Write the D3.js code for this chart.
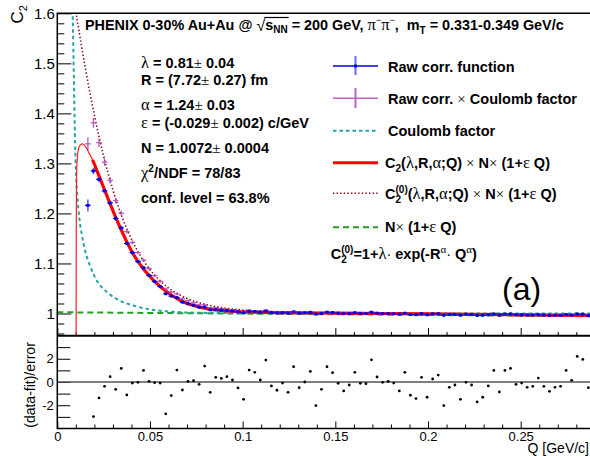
<!DOCTYPE html>
<html>
<head>
<meta charset="utf-8">
<script src="https://cdn.jsdelivr.net/npm/d3@7"></script>
<style>
  html, body { margin: 0; padding: 0; background: #fff; }
  svg text { white-space: pre; }
</style>
</head>
<body>
<svg id="chart" width="590" height="456"></svg>
<script>
// ---- data ----
const qBins = [0.0165, 0.0195, 0.0225, 0.0255, 0.0285, 0.0315, 0.0345, 0.0375, 0.0405, 0.0435,
  0.0465, 0.0495, 0.0525, 0.0555, 0.0585, 0.0615, 0.0645, 0.0675, 0.0705, 0.0735,
  0.0765, 0.0795, 0.0825, 0.0855, 0.0885, 0.0915, 0.0945, 0.0975, 0.1005, 0.1035,
  0.1065, 0.1095, 0.1125, 0.1155, 0.1185, 0.1215, 0.1245, 0.1275, 0.1305, 0.1335,
  0.1365, 0.1395, 0.1425, 0.1455, 0.1485, 0.1515, 0.1545, 0.1575, 0.1605, 0.1635,
  0.1665, 0.1695, 0.1725, 0.1755, 0.1785, 0.1815, 0.1845, 0.1875, 0.1905, 0.1935,
  0.1965, 0.1995, 0.2025, 0.2055, 0.2085, 0.2115, 0.2145, 0.2175, 0.2205, 0.2235,
  0.2265, 0.2295, 0.2325, 0.2355, 0.2385, 0.2415, 0.2445, 0.2475, 0.2505, 0.2535,
  0.2565, 0.2595, 0.2625, 0.2655, 0.2685, 0.2715, 0.2745, 0.2775, 0.2805, 0.2835, 0.2865];

// raw correlation function (blue)
const rawCorr = [1.216, 1.285, 1.268, 1.245, 1.221, 1.190, 1.171, 1.140, 1.1217, 1.1039,
  1.0914, 1.0761, 1.0639, 1.0538, 1.0395, 1.0348, 1.0319, 1.0228, 1.0196, 1.0162,
  1.0127, 1.0126, 1.0074, 1.0079, 1.0066, 1.0059, 1.0048, 1.0033, 1.0016, 1.0044,
  1.0039, 1.0027, 1.0048, 1.0017, 1.0010, 1.0016, 1.0005, 1.0031, 1.0008, 1.0013,
  1.0023, 0.9987, 1.0002, 1.0025, 1.0018, 1.0006, 0.9997, 1.0002, 1.0014, 1.0002,
  1.0000, 1.0024, 1.0005, 0.9999, 0.9999, 0.9996, 0.9987, 1.0005, 0.9980, 0.9976,
  0.9997, 0.9975, 0.9993, 0.9996, 0.9964, 0.9981, 0.9983, 0.9967, 0.9984, 0.9980,
  0.9961, 0.9965, 0.9976, 0.9991, 0.9968, 0.9989, 0.9990, 0.9973, 0.9973, 0.9967,
  0.9968, 0.9975, 0.9966, 0.9959, 0.9962, 0.9963, 0.9978, 0.9967, 0.9990, 0.9986, 0.9956];
const rawCorrErr = [0.012, 0.0065, 0.0055, 0.0048, 0.0043, 0.0039, 0.0035, 0.0032, 0.0030, 0.0028,
  0.0026, 0.0024, 0.0023, 0.0022, 0.0021, 0.0020, 0.0019, 0.0018, 0.0017, 0.0017,
  0.0016, 0.0016, 0.0015, 0.0015, 0.0015, 0.0014, 0.0014, 0.0014, 0.0014, 0.0013,
  0.0013, 0.0013, 0.0013, 0.0013, 0.0013, 0.0013, 0.0013, 0.0013, 0.0013, 0.0013,
  0.0013, 0.0013, 0.0013, 0.0013, 0.0013, 0.0013, 0.0013, 0.0013, 0.0013, 0.0013,
  0.0012, 0.0012, 0.0012, 0.0012, 0.0012, 0.0012, 0.0012, 0.0012, 0.0012, 0.0012,
  0.0012, 0.0012, 0.0012, 0.0012, 0.0012, 0.0012, 0.0012, 0.0012, 0.0012, 0.0012,
  0.0012, 0.0012, 0.0012, 0.0012, 0.0012, 0.0012, 0.0012, 0.0012, 0.0012, 0.0012,
  0.0012, 0.0012, 0.0012, 0.0012, 0.0012, 0.0012, 0.0012, 0.0012, 0.0012, 0.0012, 0.0012];

// raw corr. x Coulomb factor (purple)
const coulCorr = [1.339, 1.381, 1.3415, 1.3023, 1.2662, 1.2257, 1.2003, 1.1639, 1.1419, 1.1216,
  1.1067, 1.0896, 1.0756, 1.0643, 1.0489, 1.0431, 1.0393, 1.0294, 1.0255, 1.0215,
  1.0175, 1.0169, 1.0112, 1.0113, 1.0097, 1.0087, 1.0073, 1.0056, 1.0037, 1.0063,
  1.0056, 1.0043, 1.0063, 1.0031, 1.0023, 1.0028, 1.0015, 1.0041, 1.0018, 1.0022,
  1.0032, 0.9996, 1.0011, 1.0034, 1.0026, 1.0014, 1.0005, 1.0010, 1.0022, 1.0009,
  1.0007, 1.0029, 1.0010, 1.0004, 1.0004, 1.0001, 0.9992, 1.0010, 0.9985, 0.9981,
  1.0002, 0.9980, 0.9998, 1.0001, 0.9969, 0.9986, 0.9988, 0.9972, 0.9989, 0.9985,
  0.9966, 0.9970, 0.9981, 0.9996, 0.9973, 0.9994, 0.9995, 0.9978, 0.9978, 0.9972,
  0.9973, 0.9980, 0.9971, 0.9964, 0.9967, 0.9968, 0.9983, 0.9972, 0.9995, 0.9991, 0.9961];
const coulCorrErr = [0.0126, 0.0100, 0.0085, 0.0072, 0.0063, 0.0056, 0.0050, 0.0045, 0.0041, 0.0038,
  0.0035, 0.0033, 0.0031, 0.0029, 0.0028, 0.0027, 0.0026, 0.0025, 0.0024, 0.0023,
  0.0022, 0.0022, 0.0021, 0.0021, 0.0020, 0.0020, 0.0020, 0.0020, 0.0020, 0.0020,
  0.0020, 0.0020, 0.0020, 0.0020, 0.0020, 0.0020, 0.0020, 0.0020, 0.0020, 0.0020,
  0.0019, 0.0019, 0.0019, 0.0019, 0.0019, 0.0019, 0.0019, 0.0019, 0.0019, 0.0019,
  0.0018, 0.0018, 0.0018, 0.0018, 0.0018, 0.0018, 0.0018, 0.0018, 0.0018, 0.0018,
  0.0018, 0.0018, 0.0018, 0.0018, 0.0018, 0.0018, 0.0018, 0.0018, 0.0018, 0.0018,
  0.0018, 0.0018, 0.0018, 0.0018, 0.0018, 0.0018, 0.0018, 0.0018, 0.0018, 0.0018,
  0.0018, 0.0018, 0.0018, 0.0018, 0.0018, 0.0018, 0.0018, 0.0018, 0.0018, 0.0018, 0.0018];

// (data-fit)/error, for qBins[1..90]
const residuals = [-2.97, -1.37, -0.37, 0.46, -0.63, 1.17, -1.11, -0.09, -0.03, 1.0,
  0.06, -0.06, -0.09, -2.74, -1.17, 1.03, -0.69, 0.06, 0.11, -0.2,
  1.37, -0.89, 0.4, 0.31, 0.46, 0.17, -0.51, -1.49, 1.03, 0.83,
  0.17, 1.89, -0.34, -0.71, -0.09, -0.89, 1.31, -0.49, 0.0, 0.91,
  -2.03, -0.63, 1.31, 0.8, -0.11, -0.77, -0.26, 0.83, -0.11, -0.14,
  1.91, 0.43, -0.03, 0.06, -0.09, -0.77, 0.83, -1.14, -1.43, 0.4,
  -1.31, 0.26, 0.6, -2.03, -0.46, -0.26, -1.49, -0.03, -0.26, -1.71,
  -1.31, -0.34, 1.0, -0.86, 1.0, 1.17, -0.2, -0.09, -0.46, -0.37,
  0.34, -0.37, -0.8, -0.46, -0.37, 1.0, 0.14, 2.2, 1.94, -0.49];

// fit C2 x N x (1+eps Q), fit range (thick red)
const fitQ = [0.0190, 0.0195, 0.0210, 0.0225, 0.0240, 0.0255, 0.0270, 0.0285, 0.0300, 0.0315,
  0.0330, 0.0345, 0.0360, 0.0375, 0.0390, 0.0405, 0.0435, 0.0465, 0.0495, 0.0525,
  0.0555, 0.0585, 0.0615, 0.0645, 0.0675, 0.0705, 0.0735, 0.0765, 0.0795, 0.0825,
  0.0885, 0.0945, 0.1005, 0.1065, 0.1125, 0.1215, 0.15, 0.20, 0.25, 0.29];
const fitC = [1.307, 1.303, 1.289, 1.275, 1.261, 1.247, 1.233, 1.219, 1.2055, 1.192,
  1.1795, 1.167, 1.155, 1.143, 1.1325, 1.122, 1.104, 1.089, 1.076, 1.064,
  1.054, 1.045, 1.037, 1.030, 1.024, 1.0195, 1.016, 1.013, 1.0105, 1.0087,
  1.0062, 1.0046, 1.0035, 1.0028, 1.0023, 1.0017, 1.0008, 0.9991, 0.9974, 0.9961];
// same function below the fit range (thin red)
const fitLowQ = [0.01016, 0.01020, 0.01026, 0.01035, 0.0105, 0.0109, 0.0115, 0.0124, 0.0135, 0.0147,
  0.0160, 0.0172, 0.0182, 0.0190];
const fitLowC = [0.95, 1.10, 1.20, 1.26, 1.290, 1.315, 1.330, 1.337, 1.339, 1.336,
  1.329, 1.320, 1.313, 1.307];
// C2(0) x N x (1+eps Q) (dotted)
const c0Q = [0.0098, 0.0100, 0.0115, 0.0130, 0.0150, 0.0175, 0.0200, 0.0225, 0.0250, 0.0275,
  0.0300, 0.0325, 0.0350, 0.0400, 0.0450, 0.0500, 0.0550, 0.0600, 0.0650, 0.0700,
  0.0800, 0.0900, 0.1000, 0.1100, 0.1200, 0.1400, 0.1700, 0.2000, 0.2500, 0.2900];
const c0C = [1.610, 1.6037, 1.5693, 1.5360, 1.4932, 1.4430, 1.3965, 1.3537, 1.3146, 1.2790,
  1.2470, 1.2181, 1.1922, 1.1487, 1.1143, 1.0875, 1.0669, 1.0511, 1.0391, 1.0300,
  1.0181, 1.0110, 1.0070, 1.0045, 1.0030, 1.0015, 1.0003, 0.9993, 0.9976, 0.9963];
// Coulomb factor (cyan dashed)
const coulQ = [0.0082, 0.0083, 0.0088, 0.0092, 0.0096, 0.0101, 0.0108, 0.0119, 0.0132, 0.0149,
  0.0176, 0.0213, 0.0267, 0.0320, 0.0410, 0.0500, 0.0600, 0.0700, 0.0850, 0.1000, 0.1500, 0.2900];
const coulC = [1.62, 1.60, 1.50, 1.42, 1.34, 1.28, 1.235, 1.19, 1.158, 1.127,
  1.096, 1.066, 1.043, 1.029, 1.016, 1.008, 1.004, 1.002, 1.001, 1.0005, 1.0001, 1.0];
// N x (1+eps Q) (green dashed)
const baseQ = [0, 0.29];
const baseC = [1.0025, 0.9945];

// axes
const xTicks = [0, 0.05, 0.1, 0.15, 0.2, 0.25];
const xLabels = ["0", "0.05", "0.1", "0.15", "0.2", "0.25"];
const yTicks = [1.0, 1.1, 1.2, 1.3, 1.4, 1.5, 1.6];
const yLabels = ["1", "1.1", "1.2", "1.3", "1.4", "1.5", "1.6"];
const resTicks = [-2, 0, 2];
const resLabels = ["-2", "0", "2"];
const resMinor = [-3, -1, 1, 3];

// ---- drawing ----
const SANS = "'Liberation Sans', Arial, Helvetica, sans-serif";
const SERIF = "'Liberation Serif', 'Times New Roman', serif";

const svg = d3.select("#chart");
svg.append("rect").attr("width", 590).attr("height", 456).attr("fill", "#fff");

const left = 57.3, right = 596;
const x = d3.scaleLinear().domain([0, 0.29]).range([left, left + 0.29 * 1853.6]);
const yTop = d3.scaleLinear().domain([0.955, 1.6]).range([336, 13.3]);
const yRes = d3.scaleLinear().domain([-4, 4]).range([428.5, 335.5]);

const defs = svg.append("defs");
defs.append("clipPath").attr("id", "clipTop").append("rect")
  .attr("x", left).attr("y", 13.3).attr("width", right - left).attr("height", 336 - 13.3);
defs.append("clipPath").attr("id", "clipRes").append("rect")
  .attr("x", left).attr("y", 335.5).attr("width", right - left).attr("height", 93);

const xMinor = d3.range(0.01, 0.29, 0.01).filter(v => Math.abs(v / 0.05 - Math.round(v / 0.05)) > 1e-6);
const yMinor = d3.range(0.96, 1.6, 0.02).filter(v => Math.abs(v * 10 - Math.round(v * 10)) > 1e-6);

function styleAxis(g, size) {
  g.select(".domain").remove();
  g.selectAll("line").attr("stroke", "#000").attr("stroke-width", 1);
  g.selectAll("text").attr("font-family", SANS).attr("font-size", size).attr("fill", "#000");
}

// upper panel axes
svg.append("g").attr("transform", `translate(${left},0)`)
  .call(d3.axisLeft(yTop).tickValues(yTicks).tickSize(-14).tickPadding(2.5)
    .tickFormat((d, i) => yLabels[i]))
  .call(g => styleAxis(g, 15));
svg.append("g").attr("transform", `translate(${left},0)`)
  .call(d3.axisLeft(yTop).tickValues(yMinor).tickSize(-7).tickFormat(""))
  .call(g => styleAxis(g, 15));
svg.append("g").attr("transform", "translate(0,336)")
  .call(d3.axisBottom(x).tickValues(xTicks).tickSize(-8).tickFormat(""))
  .call(g => styleAxis(g, 13));
svg.append("g").attr("transform", "translate(0,336)")
  .call(d3.axisBottom(x).tickValues(xMinor).tickSize(-4).tickFormat(""))
  .call(g => styleAxis(g, 13));

// lower panel axes
svg.append("g").attr("transform", "translate(0,428.5)")
  .call(d3.axisBottom(x).tickValues(xTicks).tickSize(-7).tickPadding(3.5)
    .tickFormat((d, i) => xLabels[i]))
  .call(g => styleAxis(g, 13));
svg.append("g").attr("transform", "translate(0,428.5)")
  .call(d3.axisBottom(x).tickValues(xMinor).tickSize(-4).tickFormat(""))
  .call(g => styleAxis(g, 13));
svg.append("g").attr("transform", `translate(${left},0)`)
  .call(d3.axisLeft(yRes).tickValues(resTicks).tickSize(-13).tickPadding(3.5)
    .tickFormat((d, i) => resLabels[i]))
  .call(g => styleAxis(g, 13));
svg.append("g").attr("transform", `translate(${left},0)`)
  .call(d3.axisLeft(yRes).tickValues(resMinor).tickSize(-13).tickFormat(""))
  .call(g => styleAxis(g, 13));

// curves (upper panel)
const upper = svg.append("g").attr("clip-path", "url(#clipTop)");
const line = d3.line().x(d => x(d[0])).y(d => yTop(d[1])).curve(d3.curveMonotoneX);

upper.append("path").datum(d3.zip(baseQ, baseC)).attr("d", line)
  .attr("fill", "none").attr("stroke", "#22a022").attr("stroke-width", 2).attr("stroke-dasharray", "6,4");
upper.append("path").datum(d3.zip(coulQ, coulC)).attr("d", line)
  .attr("fill", "none").attr("stroke", "#22a4a8").attr("stroke-width", 2).attr("stroke-dasharray", "3.5,3");
upper.append("path").datum(d3.zip(c0Q, c0C)).attr("d", line)
  .attr("fill", "none").attr("stroke", "#8a0a0a").attr("stroke-width", 1.6).attr("stroke-dasharray", "1.4,2.2");
upper.append("path").datum(d3.zip(fitLowQ, fitLowC)).attr("d", line)
  .attr("fill", "none").attr("stroke", "#ff2020").attr("stroke-width", 1.2);
upper.append("path").datum(d3.zip(fitQ, fitC)).attr("d", line)
  .attr("fill", "none").attr("stroke", "#ff0000").attr("stroke-width", 3.2);

// data points with error bars
const halfBin = 0.0015;
const purple = upper.append("g").attr("stroke", "#b048b8").attr("stroke-width", 1.3).attr("opacity", 0.9);
qBins.forEach((q, i) => {
  purple.append("line").attr("x1", x(q)).attr("x2", x(q))
    .attr("y1", yTop(coulCorr[i] - coulCorrErr[i])).attr("y2", yTop(coulCorr[i] + coulCorrErr[i]));
  purple.append("line").attr("x1", x(q - halfBin)).attr("x2", x(q + halfBin))
    .attr("y1", yTop(coulCorr[i])).attr("y2", yTop(coulCorr[i]));
});
const blue = upper.append("g");
qBins.forEach((q, i) => {
  blue.append("line").attr("x1", x(q)).attr("x2", x(q))
    .attr("y1", yTop(rawCorr[i] - rawCorrErr[i])).attr("y2", yTop(rawCorr[i] + rawCorrErr[i]))
    .attr("stroke", "rgba(70,70,255,0.85)").attr("stroke-width", 1.6);
  blue.append("line").attr("x1", x(q - halfBin)).attr("x2", x(q + halfBin))
    .attr("y1", yTop(rawCorr[i])).attr("y2", yTop(rawCorr[i]))
    .attr("stroke", "#0000f0").attr("stroke-width", 1.1);
  blue.append("rect").attr("x", x(q) - 1.5).attr("y", yTop(rawCorr[i]) - 1.5)
    .attr("width", 3).attr("height", 3).attr("fill", "#0000e0");
});

// residual panel
const res = svg.append("g").attr("clip-path", "url(#clipRes)");
res.append("line").attr("x1", left).attr("x2", right).attr("y1", yRes(0)).attr("y2", yRes(0))
  .attr("stroke", "#555").attr("stroke-width", 1.5);
res.selectAll("circle").data(residuals).join("circle")
  .attr("cx", (d, i) => x(qBins[i + 1])).attr("cy", d => yRes(d))
  .attr("r", 1.4).attr("fill", "#000");

// frames
const frame = svg.append("g").attr("stroke", "#000").attr("stroke-width", 1.5).attr("fill", "none");
frame.append("path").attr("d", `M${right},13.3H${left}V428.5H${right}`);
frame.append("path").attr("d", `M${left},335.8H${right}`).attr("stroke-width", 2);

// ---- text ----
// sequential runs of text; each run measured so the next follows it
function rich(g, x0, y0, runs, base) {
  let xc = x0, prevStart = x0, prevEnd = x0;
  const ext = [];
  runs.forEach(r => {
    const sx = r.back ? prevStart : xc;
    const t = g.append("text").attr("x", sx).attr("y", y0 + (r.dy || 0))
      .attr("xml:space", "preserve")
      .attr("font-family", r.f === "serif" ? SERIF : SANS)
      .attr("font-weight", r.w || "bold")
      .attr("font-size", r.s || base)
      .attr("fill", "#000")
      .text(r.t);
    const w = t.node().getComputedTextLength();
    ext.push([sx, sx + w]);
    if (r.back) {
      xc = Math.max(prevEnd, sx + w);
    } else {
      prevStart = sx; prevEnd = sx + w; xc = sx + w;
    }
  });
  return ext;
}
const GR = (t, s) => ({ t, f: "serif", w: "normal", s: s || 16.5 });
const TIMES = { t: "\u00d7", f: "serif", w: "normal", s: 15 };
const PM = { t: "\u00b1", f: "serif", w: "normal", s: 15 };

const txt = svg.append("g");

// title
const tEx = rich(txt, 85, 30, [
  { t: "PHENIX 0-30% Au+Au @ " },
  { t: "\u221a", w: "normal", s: 16, dy: 1 },
  { t: "s" },
  { t: "NN", s: 10, dy: 3 },
  { t: " = 200 GeV, " },
  GR("\u03c0"), { t: "\u2212", s: 9, dy: -7, w: "normal" },
  GR("\u03c0"), { t: "\u2212", s: 9, dy: -7, w: "normal" },
  { t: ",  m" },
  { t: "T", s: 10, dy: 4 },
  { t: " = 0.331-0.349 GeV/c" }
], 14.4);
txt.append("line").attr("x1", tEx[1][1] - 1).attr("x2", tEx[3][1] + 1)
  .attr("y1", 17.5).attr("y2", 17.5).attr("stroke", "#000").attr("stroke-width", 1.2);

// fit parameters
const px = 141, ps = 14.5;
rich(txt, px, 68.3, [GR("\u03bb"), { t: " = 0.81" }, PM, { t: " 0.04" }], ps);
rich(txt, px, 85, [{ t: "R = (7.72" }, PM, { t: " 0.27) fm" }], ps);
rich(txt, px, 110, [GR("\u03b1"), { t: " = 1.24" }, PM, { t: " 0.03" }], ps);
rich(txt, px, 128.3, [GR("\u03b5"), { t: " = (-0.029" }, PM, { t: " 0.002) c/GeV" }], ps);
rich(txt, px, 153.3, [{ t: "N = 1.0072" }, PM, { t: " 0.0004" }], ps);
rich(txt, px, 178.3, [GR("\u03c7"), { t: "2", s: 10, dy: -6 }, { t: "/NDF = 78/83" }], ps);
rich(txt, px, 203.3, [{ t: "conf. level = 63.8%" }], ps);

// legend
const lx0 = 333, lx1 = 378, lxm = (lx0 + lx1) / 2;
const leg = svg.append("g");
// raw corr
leg.append("line").attr("x1", lx0).attr("x2", lx1).attr("y1", 66).attr("y2", 66)
  .attr("stroke", "#0000e0").attr("stroke-width", 1.5);
leg.append("line").attr("x1", lxm).attr("x2", lxm).attr("y1", 56).attr("y2", 75)
  .attr("stroke", "rgba(70,70,255,0.8)").attr("stroke-width", 2);
leg.append("rect").attr("x", lxm - 1.5).attr("y", 64.5).attr("width", 3).attr("height", 3).attr("fill", "#0000e0");
// raw x coulomb
leg.append("line").attr("x1", lx0).attr("x2", lx1).attr("y1", 98.3).attr("y2", 98.3)
  .attr("stroke", "#c060c4").attr("stroke-width", 1.5);
leg.append("line").attr("x1", lxm).attr("x2", lxm).attr("y1", 88).attr("y2", 108)
  .attr("stroke", "#c060c4").attr("stroke-width", 2);
// coulomb
leg.append("line").attr("x1", lx0).attr("x2", lx1).attr("y1", 130.7).attr("y2", 130.7)
  .attr("stroke", "#22a4a8").attr("stroke-width", 2).attr("stroke-dasharray", "3.5,3");
// fit
leg.append("line").attr("x1", lx0).attr("x2", lx1).attr("y1", 162.7).attr("y2", 162.7)
  .attr("stroke", "#ff0000").attr("stroke-width", 3);
// c0
leg.append("line").attr("x1", lx0).attr("x2", lx1).attr("y1", 193.3).attr("y2", 193.3)
  .attr("stroke", "#8a0a0a").attr("stroke-width", 1.5).attr("stroke-dasharray", "1.4,2.2");
// baseline
leg.append("line").attr("x1", lx0).attr("x2", lx1).attr("y1", 227.3).attr("y2", 227.3)
  .attr("stroke", "#22a022").attr("stroke-width", 2).attr("stroke-dasharray", "6,4");

const ls = 14.5;
rich(leg, 388, 71.5, [{ t: "Raw corr. function" }], ls);
rich(leg, 388, 103.8, [{ t: "Raw corr. " }, TIMES, { t: " Coulomb factor" }], ls);
rich(leg, 388, 136.2, [{ t: "Coulomb factor" }], ls);
const fitArgs = [{ t: "(" }, GR("\u03bb"), { t: ",R," }, GR("\u03b1"), { t: ";Q) " }, TIMES, { t: " N" }, TIMES,
  { t: " (1+" }, GR("\u03b5"), { t: " Q)" }];
rich(leg, 385, 167.5, [{ t: "C" }, { t: "2", s: 10, dy: 4 }].concat(fitArgs), ls);
rich(leg, 385, 199, [{ t: "C" }, { t: "2", s: 10, dy: 4 }, { t: "(0)", s: 10, dy: -6, back: true }].concat(fitArgs), ls);
rich(leg, 385, 232, [{ t: "N" }, TIMES, { t: " (1+" }, GR("\u03b5"), { t: " Q)" }], ls);
rich(leg, 330.7, 259, [{ t: "C" }, { t: "2", s: 10, dy: 4 }, { t: "(0)", s: 10, dy: -6, back: true },
  { t: "=1+" }, GR("\u03bb"), { t: "\u00b7", w: "normal" }, { t: " exp(-R" },
  { t: "\u03b1", f: "serif", w: "normal", s: 11, dy: -6 }, { t: "\u00b7", w: "normal" }, { t: " Q" },
  { t: "\u03b1", f: "serif", w: "normal", s: 11, dy: -6 }, { t: ")" }], ls);

// panel label
svg.append("text").attr("x", 502).attr("y", 300).attr("font-family", SANS)
  .attr("font-size", 32).attr("fill", "#000").text("(a)");

// axis titles
const yt = svg.append("text").attr("transform", "translate(23,5) rotate(-90)")
  .attr("text-anchor", "end").attr("font-family", SANS).attr("font-size", 17).attr("fill", "#000");
yt.append("tspan").text("C");
yt.append("tspan").attr("font-size", 11).attr("dy", 4).text("2");

svg.append("text").attr("transform", "translate(35,385) rotate(-90)")
  .attr("text-anchor", "middle").attr("font-family", SANS).attr("font-size", 14).attr("fill", "#000")
  .text("(data-fit)/error");
svg.append("text").attr("x", 589).attr("y", 452.8).attr("text-anchor", "end")
  .attr("font-family", SANS).attr("font-size", 14).attr("fill", "#000").text("Q [GeV/c]");
</script>
</body>
</html>
